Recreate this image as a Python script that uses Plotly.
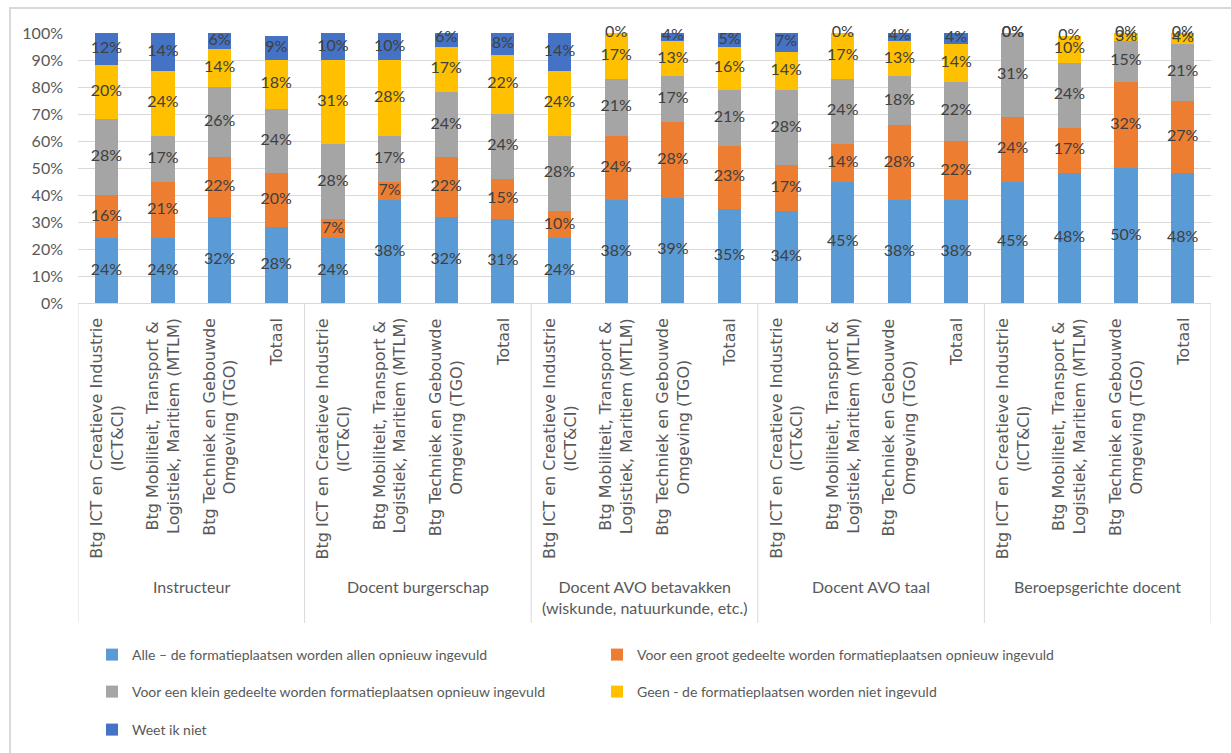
import plotly.graph_objects as go

groups = ["Instructeur", "Docent burgerschap",
          "Docent AVO betavakken<br>(wiskunde, natuurkunde, etc.)",
          "Docent AVO taal", "Beroepsgerichte docent"]
subcats = ["Btg ICT en Creatieve Industrie<br>(ICT&CI)",
           "Btg Mobiliteit, Transport &<br>Logistiek, Maritiem (MTLM)",
           "Btg Techniek en Gebouwde<br>Omgeving (TGO)",
           "Totaal"]

series_names = ["Alle – de formatieplaatsen worden allen opnieuw ingevuld",
                "Voor een groot gedeelte worden formatieplaatsen opnieuw ingevuld",
                "Voor een klein gedeelte worden formatieplaatsen opnieuw ingevuld",
                "Geen - de formatieplaatsen worden niet ingevuld",
                "Weet ik niet"]
colors = ["#5B9BD5", "#ED7D31", "#A5A5A5", "#FFC000", "#4472C4"]

alle = [24, 24, 32, 28, 24, 38, 32, 31, 24, 38, 39, 35, 34, 45, 38, 38, 45, 48, 50, 48]
groot = [16, 21, 22, 20, 7, 7, 22, 15, 10, 24, 28, 23, 17, 14, 28, 22, 24, 17, 32, 27]
klein = [28, 17, 26, 24, 28, 17, 24, 24, 28, 21, 17, 21, 28, 24, 18, 22, 31, 24, 15, 21]
geen = [20, 24, 14, 18, 31, 28, 17, 22, 24, 17, 13, 16, 14, 17, 13, 14, 0, 10, 3, 4]
weet = [12, 14, 6, 9, 10, 10, 6, 8, 14, 0, 4, 5, 7, 0, 4, 4, 0, 0, 0, 0]

series = [alle, groot, klein, geen, weet]
n = len(alle)
xs = list(range(n))

W, H = 1231, 753
ML, MR, MT, MB = 78, 20, 33, 450
PW = W - ML - MR
PH = H - MT - MB


def py(px):
    return (H - MB - px) / PH


def pxx(px):
    return (px - ML) / PW


fig = go.Figure()
legend_ids = ["legend", "legend", "legend2", "legend2", "legend3"]
for name, vals, col, lg in zip(series_names, series, colors, legend_ids):
    fig.add_trace(go.Bar(x=xs, y=vals, name=name, marker_color=col,
                         marker_line_width=0, legend=lg, hoverinfo="skip"))

# data labels at segment centers
lx, ly, lt = [], [], []
for i in range(n):
    cum = 0
    for vals in series:
        v = vals[i]
        lx.append(i)
        ly.append(cum + v / 2)
        lt.append(f"{v}%")
        cum += v
fig.add_trace(go.Scatter(x=lx, y=ly, text=lt, mode="text", showlegend=False,
                         hoverinfo="skip", cliponaxis=False,
                         textfont=dict(family="Lato", size=16, color="#404040")))

annotations = []
for g, grp in enumerate(groups):
    for s, sub in enumerate(subcats):
        annotations.append(dict(x=g * 4 + s, y=py(316), xref="x", yref="paper",
                                text=sub, textangle=-90, showarrow=False,
                                xanchor="center", yanchor="top", align="center",
                                font=dict(family="DejaVu Sans", size=16, color="#595959")))
    annotations.append(dict(x=g * 4 + 1.5, y=py(575), xref="x", yref="paper",
                            text=grp, showarrow=False, xanchor="center", yanchor="top",
                            align="center",
                            font=dict(family="Lato", size=16, color="#595959")))

shapes = []
for b in range(len(groups) + 1):
    shapes.append(dict(type="line", xref="x", yref="paper", x0=b * 4 - 0.5, x1=b * 4 - 0.5,
                       y0=0, y1=py(623), line=dict(color="#D9D9D9", width=1)))
shapes.append(dict(type="rect", xref="paper", yref="paper", x0=pxx(10), x1=pxx(1260),
                   y0=py(800), y1=py(8), line=dict(color="#D9D9D9", width=2)))

legfont = dict(family="Lato", size=14, color="#595959")
common = dict(orientation="h", xanchor="left", yanchor="middle", font=legfont,
              entrywidth=460, entrywidthmode="pixels", bgcolor="rgba(0,0,0,0)",
              traceorder="normal")

fig.update_layout(
    width=W, height=H,
    margin=dict(l=ML, r=MR, t=MT, b=MB, autoexpand=False),
    paper_bgcolor="white", plot_bgcolor="white",
    barmode="stack", bargap=0.59,
    showlegend=True,
    legend=dict(x=pxx(92), y=py(655), **common),
    legend2=dict(x=pxx(92), y=py(692), **common),
    legend3=dict(x=pxx(92), y=py(730), **common),
    xaxis=dict(range=[-0.5, n - 0.5], showticklabels=False, ticks="",
               showgrid=False, zeroline=False, showline=True,
               linecolor="#D9D9D9", linewidth=1),
    yaxis=dict(range=[0, 100], dtick=10, ticksuffix="%", showgrid=True,
               gridcolor="#D9D9D9", gridwidth=1, zeroline=False, showline=False,
               ticks="", ticklabelstandoff=14,
               tickfont=dict(family="Lato", size=16, color="#595959")),
    annotations=annotations,
    shapes=shapes,
    font=dict(family="Lato", color="#595959"),
)

fig.write_html("out.html")
